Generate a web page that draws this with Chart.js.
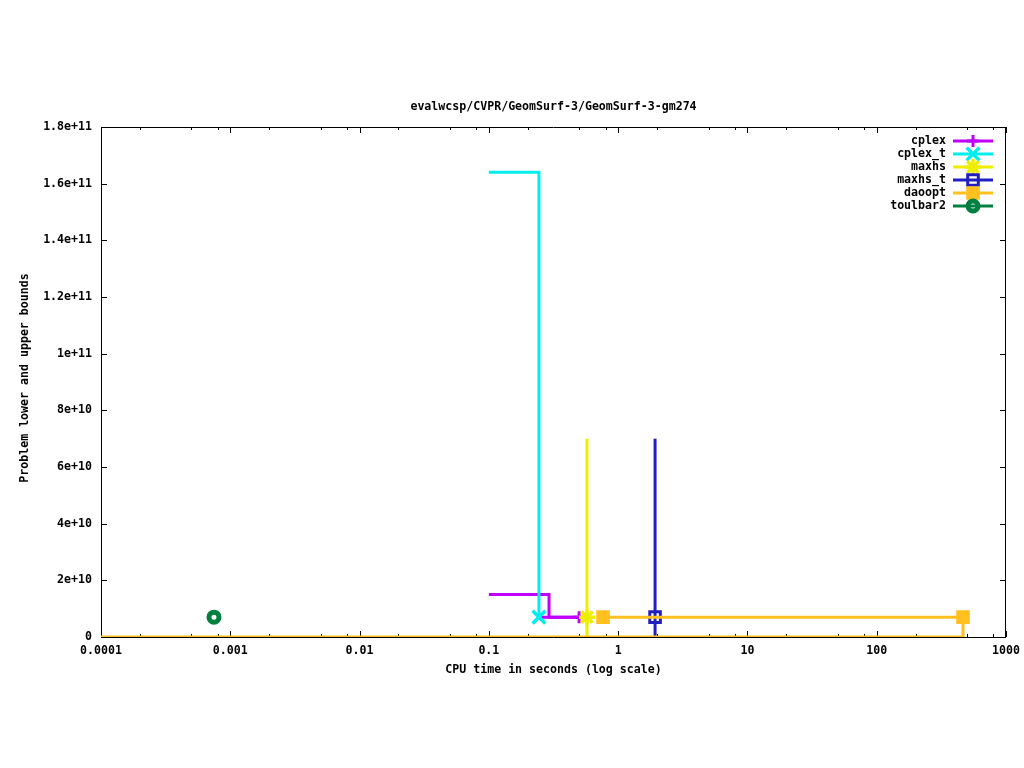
<!DOCTYPE html>
<html>
<head>
<meta charset="utf-8">
<script src="https://cdn.jsdelivr.net/npm/chart.js@4"></script>
<style>
  html, body { margin: 0; padding: 0; background: #fff; }
  #wrap { width: 1024px; height: 768px; position: relative; }
</style>
</head>
<body>
<div id="wrap"><canvas id="chart"></canvas></div>
<script>
// values

const titleText = 'evalwcsp/CVPR/GeomSurf-3/GeomSurf-3-gm274';
const xTitle = 'CPU time in seconds (log scale)';
const yTitle = 'Problem lower and upper bounds';

const xTicks = [0.0001, 0.001, 0.01, 0.1, 1, 10, 100, 1000];
const xTickLabels = ['0.0001', '0.001', '0.01', '0.1', '1', '10', '100', '1000'];
const xMinorSteps = [2, 5, 8];
const yTicks = [0, 2e10, 4e10, 6e10, 8e10, 1e11, 1.2e11, 1.4e11, 1.6e11, 1.8e11];
const yTickLabels = ['0', '2e+10', '4e+10', '6e+10', '8e+10', '1e+11', '1.2e+11', '1.4e+11', '1.6e+11', '1.8e+11'];

const names = ['cplex', 'cplex_t', 'maxhs', 'maxhs_t', 'daoopt', 'toulbar2'];
const colors = ['#c000ff', '#00eeee', '#eeee00', '#2020c0', '#ffc020', '#008040'];

// step lines (x, y)
const cplexX = [0.1, 0.292, 0.499];
const cplexY = [1.5e10, 7e9, 7e9];
const cplexLowX = [0.25, 0.499];
const cplexLowY = [7e9, 7e9];
const cplexTX = [0.1, 0.244];
const cplexTY = [1.64e11, 7e9];
const maxhsX = [0.574, 0.574];
const maxhsY = [7e10, 0];
const maxhsTX = [1.93, 1.93];
const maxhsTY = [7e10, 0];
const daooptX = [0.764, 465];
const daooptY = [7e9, 7e9];
const daooptLowX = [0.0001, 465];
const daooptLowY = [0, 7e9];

// marker points
const cplexMarkX = [0.499];
const cplexMarkY = [7e9];
const cplexTMarkX = [0.244];
const cplexTMarkY = [7e9];
const maxhsMarkX = [0.574];
const maxhsMarkY = [7e9];
const maxhsTMarkX = [1.93];
const maxhsTMarkY = [7e9];
const daooptMarkX = [0.764, 465];
const daooptMarkY = [7e9, 7e9];
const toulbarMarkX = [0.000748];
const toulbarMarkY = [7e9];

const FONT = 'bold 11.6px "DejaVu Sans Mono", monospace';

const pts = (xs, ys) => xs.map((x, i) => ({ x, y: ys[i] }));

const markerStyles = [
    { pointStyle: 'cross', radius: 6, border: 3, fill: false },
    { pointStyle: 'crossRot', radius: 9, border: 3.5, fill: false },
    { pointStyle: 'star', radius: 8, border: 3.5, fill: false },
    { pointStyle: 'rect', radius: 7.5, border: 3, fill: false },
    { pointStyle: 'rect', radius: 7.5, border: 3, fill: true },
    { pointStyle: 'circle', radius: 5, border: 5, fill: false },
];

function lineSet(idx, xs, ys, order) {
    return {
        label: names[idx],
        data: pts(xs, ys),
        borderColor: colors[idx],
        backgroundColor: colors[idx],
        borderWidth: 3,
        showLine: true,
        stepped: 'before',   // horizontal first, like gnuplot "steps"
        pointRadius: 0,
        fill: false,
        order,
    };
}

function markSet(idx, xs, ys, order) {
    const m = markerStyles[idx];
    return {
        label: names[idx] + ' marks',
        data: pts(xs, ys),
        showLine: false,
        pointStyle: m.pointStyle,
        pointRadius: m.radius,
        pointBorderWidth: m.border,
        pointBorderColor: colors[idx],
        pointBackgroundColor: m.fill ? colors[idx] : 'rgba(0,0,0,0)',
        order,
    };
}

const datasets = [
    lineSet(0, cplexX, cplexY, 20),
    lineSet(0, cplexLowX, cplexLowY, 19),
    markSet(0, cplexMarkX, cplexMarkY, 18),
    lineSet(1, cplexTX, cplexTY, 17),
    markSet(1, cplexTMarkX, cplexTMarkY, 16),
    lineSet(2, maxhsX, maxhsY, 15),
    markSet(2, maxhsMarkX, maxhsMarkY, 14),
    lineSet(3, maxhsTX, maxhsTY, 13),
    markSet(3, maxhsTMarkX, maxhsTMarkY, 12),
    lineSet(4, daooptX, daooptY, 11),
    lineSet(4, daooptLowX, daooptLowY, 10),
    markSet(4, daooptMarkX, daooptMarkY, 9),
    markSet(5, toulbarMarkX, toulbarMarkY, 8),
];

// gnuplot-like frame, inward ticks, titles and key
const gnuplotLook = {
    id: 'gnuplotLook',
    beforeDatasetsDraw(chart) {
        const { ctx, chartArea: a, scales } = chart;
        const xs = scales.x, ys = scales.y;
        ctx.save();
        ctx.strokeStyle = '#000';
        ctx.lineWidth = 1;
        ctx.beginPath();
        ctx.rect(a.left + 0.5, a.top + 0.5, a.right - a.left - 1, a.bottom - a.top);
        // x ticks (major + minor), bottom and top
        xTicks.forEach(t => {
            [1, ...xMinorSteps].forEach(k => {
                const v = k * t;
                if (v > 1000 + 1e-9) return;
                const px = Math.round(xs.getPixelForValue(v)) + 0.5;
                const len = k === 1 ? 6 : 3;
                ctx.moveTo(px, a.bottom);
                ctx.lineTo(px, a.bottom - len);
                ctx.moveTo(px, a.top);
                ctx.lineTo(px, a.top + len);
            });
        });
        // y ticks, left and right
        yTicks.forEach(v => {
            const py = Math.round(ys.getPixelForValue(v)) + 0.5;
            ctx.moveTo(a.left, py);
            ctx.lineTo(a.left + 6, py);
            ctx.moveTo(a.right, py);
            ctx.lineTo(a.right - 6, py);
        });
        ctx.stroke();
        ctx.restore();
    },
    afterDraw(chart) {
        const { ctx, chartArea: a } = chart;
        ctx.save();
        ctx.font = FONT;
        ctx.fillStyle = '#000';
        ctx.textBaseline = 'middle';
        ctx.textAlign = 'center';
        const cx = (a.left + a.right) / 2;
        ctx.fillText(titleText, cx, 107);
        ctx.fillText(xTitle, cx, 670);
        ctx.save();
        ctx.translate(25, 378);
        ctx.rotate(-Math.PI / 2);
        ctx.fillText(yTitle, 0, 0);
        ctx.restore();

        // key
        names.forEach((name, i) => {
            const y = 141 + i * 13;
            ctx.textAlign = 'right';
            ctx.fillStyle = '#000';
            ctx.fillText(name, 946, y);
            ctx.strokeStyle = colors[i];
            ctx.lineWidth = 3;
            ctx.beginPath();
            ctx.moveTo(953, y);
            ctx.lineTo(993, y);
            ctx.stroke();
            const m = markerStyles[i];
            ctx.fillStyle = m.fill ? colors[i] : 'rgba(0,0,0,0)';
            ctx.strokeStyle = colors[i];
            ctx.lineWidth = m.border;
            Chart.helpers.drawPoint(ctx, { pointStyle: m.pointStyle, radius: m.radius, rotation: 0, borderWidth: m.border }, 973, y);
        });
        ctx.restore();
    }
};

new Chart(document.getElementById('chart').getContext('2d'), {
    type: 'scatter',
    data: { datasets },
    options: {
        responsive: true,
        maintainAspectRatio: false,
        animation: false,
        layout: { padding: { top: 127, right: 18, left: 0, bottom: 0 } },
        scales: {
            x: {
                type: 'logarithmic',
                min: 0.0001,
                max: 1000,
                afterBuildTicks: s => { s.ticks = xTicks.map(v => ({ value: v })); },
                afterFit: s => { s.height = 131; s.paddingLeft = 0; s.paddingRight = 0; },
                grid: { display: false, drawTicks: false },
                border: { display: false },
                ticks: {
                    autoSkip: false,
                    maxRotation: 0,
                    padding: 7,
                    color: '#000',
                    font: { family: '"DejaVu Sans Mono", monospace', size: 11.6, weight: 'bold' },
                    callback: v => {
                        const i = xTicks.findIndex(t => Math.abs(t - v) / t < 1e-6);
                        return i >= 0 ? xTickLabels[i] : '';
                    }
                }
            },
            y: {
                min: 0,
                max: 1.8e11,
                afterBuildTicks: s => { s.ticks = yTicks.map(v => ({ value: v })); },
                afterFit: s => { s.width = 101; s.paddingTop = 0; s.paddingBottom = 0; },
                grid: { display: false, drawTicks: false },
                border: { display: false },
                ticks: {
                    padding: 9,
                    color: '#000',
                    font: { family: '"DejaVu Sans Mono", monospace', size: 11.6, weight: 'bold' },
                    callback: v => {
                        const i = yTicks.indexOf(v);
                        return i >= 0 ? yTickLabels[i] : '';
                    }
                }
            }
        },
        plugins: {
            legend: { display: false },
            title: { display: false },
            tooltip: { enabled: false }
        }
    },
    plugins: [gnuplotLook]
});
</script>
</body>
</html>
